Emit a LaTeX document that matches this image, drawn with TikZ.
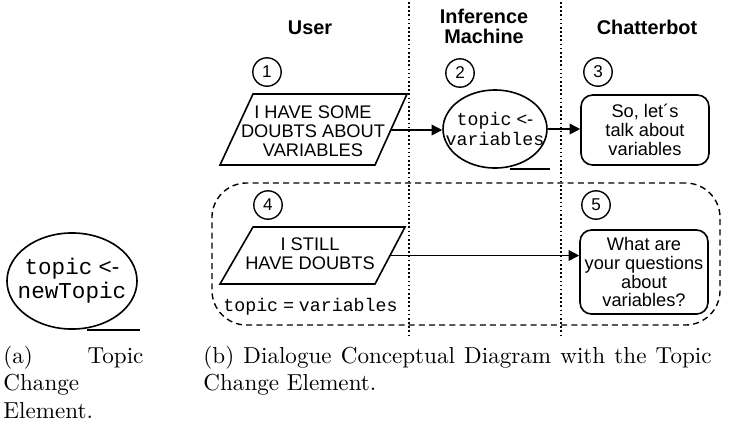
\documentclass[tikz,border=0pt]{standalone}
\usepackage{fontspec}
\newfontfamily\arial{Liberation Sans}
\newfontfamily\courier{Liberation Mono}
\usetikzlibrary{arrows.meta,shapes.geometric,calc}

\tikzset{
  ln/.style={line width=0.7pt},
  sans/.style={font=\arial\fontsize{7.9}{8.2}\selectfont, align=center, inner sep=0pt},
  hdr/.style={font=\arial\bfseries\fontsize{8.6}{8.4}\selectfont, align=center, inner sep=0pt},
  num/.style={circle, draw, line width=0.6pt, minimum size=12.3pt, inner sep=0pt,
              font=\arial\fontsize{7.4}{7.6}\selectfont},
  msg/.style={draw, line width=0.7pt, rounded corners=5pt, minimum width=55.4pt,
              inner sep=0pt, font=\arial\fontsize{7.9}{8.2}\selectfont, align=center},
  act/.style={ellipse, draw, line width=0.7pt, inner sep=0pt},
  mono/.style={inner sep=0pt, align=center, font=\courier\fontsize{7.9}{8.6}\selectfont},
  monobig/.style={inner sep=0pt, align=center, font=\courier\fontsize{9.8}{10.4}\selectfont},
  arr/.style={line width=0.7pt, -{Triangle[length=4.6pt,width=4.6pt]}},
  lane/.style={line width=0.7pt, dash pattern=on 0.7pt off 1.1pt},
  grp/.style={draw, line width=0.6pt, dash pattern=on 2.6pt off 1.8pt, rounded corners=15pt},
  figcaption/.style={inner sep=0pt, anchor=base west, font=\rmfamily\fontsize{10}{12}\selectfont},
}

\begin{document}
\begin{tikzpicture}[x=0.433pt, y=-0.433pt]
\useasboundingbox (0,0) rectangle (730,431);

% ---------- (a) topic change element ----------
\node[act, minimum width=56.3pt, minimum height=41.6pt] (e1) at (72,281) {};
\node[monobig] (e1t) at (e1) {topic{\arial\ <-}\\newTopic};
\draw[ln] ($(e1.south)+(15,0)$) -- ($(e1.south)+(68,0)$);

\node[figcaption] (capa) at (3,363) {\parbox[t]{60.6pt}{(a)\hfill Topic\\Change\\Element.}};

% ---------- (b) dialogue diagram ----------
% swimlane separators
\draw[lane] (409,2) -- (409,336);
\draw[lane] (561,2) -- (561,336);

% lane headers
\node[hdr] (hU) at (310,28) {User};
\node[hdr] (hI) at (484,26.5) {Inference\\Machine};
\node[hdr] (hC) at (647,27) {Chatterbot};

% step numbers
\node[num] (c1) at (267,72) {1};
\node[num] (c2) at (460,73) {2};
\node[num] (c3) at (598,72) {3};
\node[num] (c4) at (268,205) {4};
\node[num] (c5) at (596,205) {5};

% step 1: user input
\coordinate (p1a) at (253,94);
\coordinate (p1b) at (407,94);
\coordinate (p1c) at (375,165);
\coordinate (p1d) at (220,165);
\coordinate (p1r) at (391,130);
\draw[ln, line join=miter] (p1a) -- (p1b) -- (p1c) -- (p1d) -- cycle;
\node[sans] (u1) at (313,131) {I HAVE SOME\\DOUBTS ABOUT\\VARIABLES};

% step 2: topic change
\node[act, minimum width=45pt, minimum height=33.8pt] (e2) at (495,129) {};
\node[mono] (e2t) at (e2) {topic{\arial\ <-}\\variables};
\draw[ln] ($(e2.south)+(15,0)$) -- ($(e2.south)+(55,0)$);

% step 3: chatterbot answer
\node[msg, minimum height=30.3pt] (b3) at (645,130) {So, let´s\\talk about\\variables};

% group with the stored topic
\node[grp, minimum width=220pt, minimum height=61.5pt] (grp) at (466,254) {};

% step 4: user input
\coordinate (p4a) at (253,227);
\coordinate (p4b) at (405,227);
\coordinate (p4c) at (375,284);
\coordinate (p4d) at (220,284);
\coordinate (p4r) at (390,255.5);
\draw[ln, line join=miter] (p4a) -- (p4b) -- (p4c) -- (p4d) -- cycle;
\node[sans] (u4) at (310,254) {I STILL\\HAVE DOUBTS};

\node[mono, anchor=west] (tv) at (223,307) {topic{\arial\ =\ }variables};

% step 5: chatterbot answer
\node[msg, minimum height=36.4pt] (b5) at (644,272) {What are\\your questions\\about\\variables?};

% connectors
\draw[arr] (p1r) -- (p1r -| e2.west);
\draw[arr] (e2.east) -- (e2.east -| b3.west);
\draw[arr] (p4r) -- (p4r -| b5.west);

\node[figcaption] (capb) at (203,363) {\parbox[t]{220pt}{\tolerance=10000 (b) Dialogue Conceptual Diagram with the Topic Change Element.}};
\end{tikzpicture}
\end{document}
